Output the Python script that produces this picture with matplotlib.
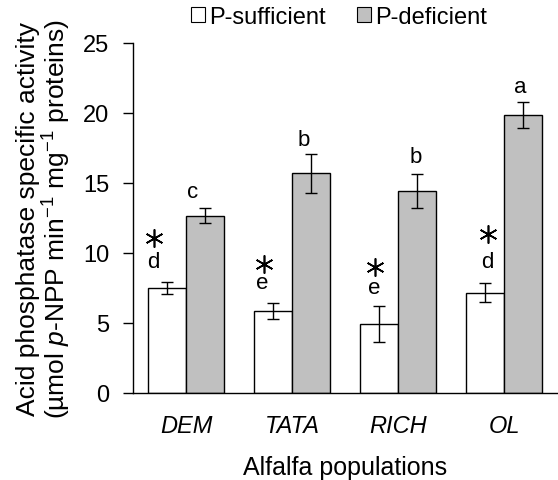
import matplotlib
matplotlib.use("Agg")
import matplotlib.pyplot as plt
import numpy as np
from matplotlib.patches import Patch

plt.rcParams['font.family'] = ['Liberation Sans', 'DejaVu Sans']
plt.rcParams['mathtext.fontset'] = 'custom'
plt.rcParams['mathtext.rm'] = 'Liberation Sans'
plt.rcParams['mathtext.it'] = 'Liberation Sans:italic'

populations = ["DEM", "TATA", "RICH", "OL"]
suff_mean = [7.5, 5.86, 4.93, 7.17]
suff_err = [0.45, 0.57, 1.3, 0.7]
def_mean = [12.67, 15.7, 14.45, 19.85]
def_err = [0.53, 1.4, 1.2, 0.95]
suff_letters = ["d", "e", "e", "d"]
def_letters = ["c", "b", "b", "a"]
suff_star = [True, True, True, True]

W, H = 558, 481
fig = plt.figure(figsize=(W/100, H/100), dpi=100)
ax = fig.add_axes([133/W, 1-394/H, (557-133)/W, (394-44)/H])

x = np.arange(len(populations))
bw = 0.356
ax.bar(x - bw/2, suff_mean, bw, color='white', edgecolor='black', linewidth=1.0,
       yerr=suff_err, error_kw=dict(ecolor='black', elinewidth=1.0, capsize=4, capthick=1.0))
ax.bar(x + bw/2, def_mean, bw, color='#c0c0c0', edgecolor='black', linewidth=1.0,
       yerr=def_err, error_kw=dict(ecolor='black', elinewidth=1.0, capsize=4, capthick=1.0))

# letters / asterisks
s_off = [-0.13, -0.10, -0.05, 0.02]
d_off = [-0.12, -0.07, -0.01, -0.02]
s_gap = [1.05, 1.1, 0.9, 1.15]
d_gap = [0.8, 0.6, 0.85, 0.7]
star_gap = [2.1, 1.7, 1.9, 2.35]
for i in range(len(populations)):
    ys = suff_mean[i] + suff_err[i] + s_gap[i]
    ax.text(x[i] - bw/2 + s_off[i], ys, suff_letters[i], ha='center', va='baseline', fontsize=16)
    if suff_star[i]:
        ax.plot(x[i] - bw/2 + s_off[i] + 0.01, ys + star_gap[i], marker=(6, 2, 0),
                color='black', markersize=13, mew=1.2, clip_on=False)
    yd = def_mean[i] + def_err[i] + d_gap[i]
    ax.text(x[i] + bw/2 + d_off[i], yd, def_letters[i], ha='center', va='baseline', fontsize=16)

ax.set_xlim(-0.5, 3.5)
ax.set_ylim(0, 25)
ax.set_yticks([0, 5, 10, 15, 20, 25])
ax.set_xticks(x)
ax.set_xticklabels(populations, fontstyle='italic', fontsize=17)
ax.tick_params(axis='y', labelsize=17, length=7, width=1.0, direction='out', pad=10)
ax.tick_params(axis='x', length=0, pad=15)
for sp in ['top', 'right']:
    ax.spines[sp].set_visible(False)
ax.spines['left'].set_linewidth(1.0)
ax.spines['bottom'].set_linewidth(1.0)

ax.set_xlabel("Alfalfa populations", fontsize=18, labelpad=13)
ax.set_ylabel("Acid phosphatase specific activity\n(µmol $p$-NPP min$^{-1}$ mg$^{-1}$ proteins)",
              fontsize=19, linespacing=1.05, labelpad=7)

handles = [Patch(facecolor='white', edgecolor='black', linewidth=0.8),
           Patch(facecolor='#c0c0c0', edgecolor='black', linewidth=0.8)]
fig.legend(handles, ["P-sufficient", "P-deficient"], loc='center', bbox_to_anchor=(339/W, 1-18/H),
           ncol=2, frameon=False, fontsize=17, handlelength=0.6, handleheight=0.6,
           handletextpad=0.2, columnspacing=1.3, borderaxespad=0)

fig.savefig("out.png", dpi=100)
